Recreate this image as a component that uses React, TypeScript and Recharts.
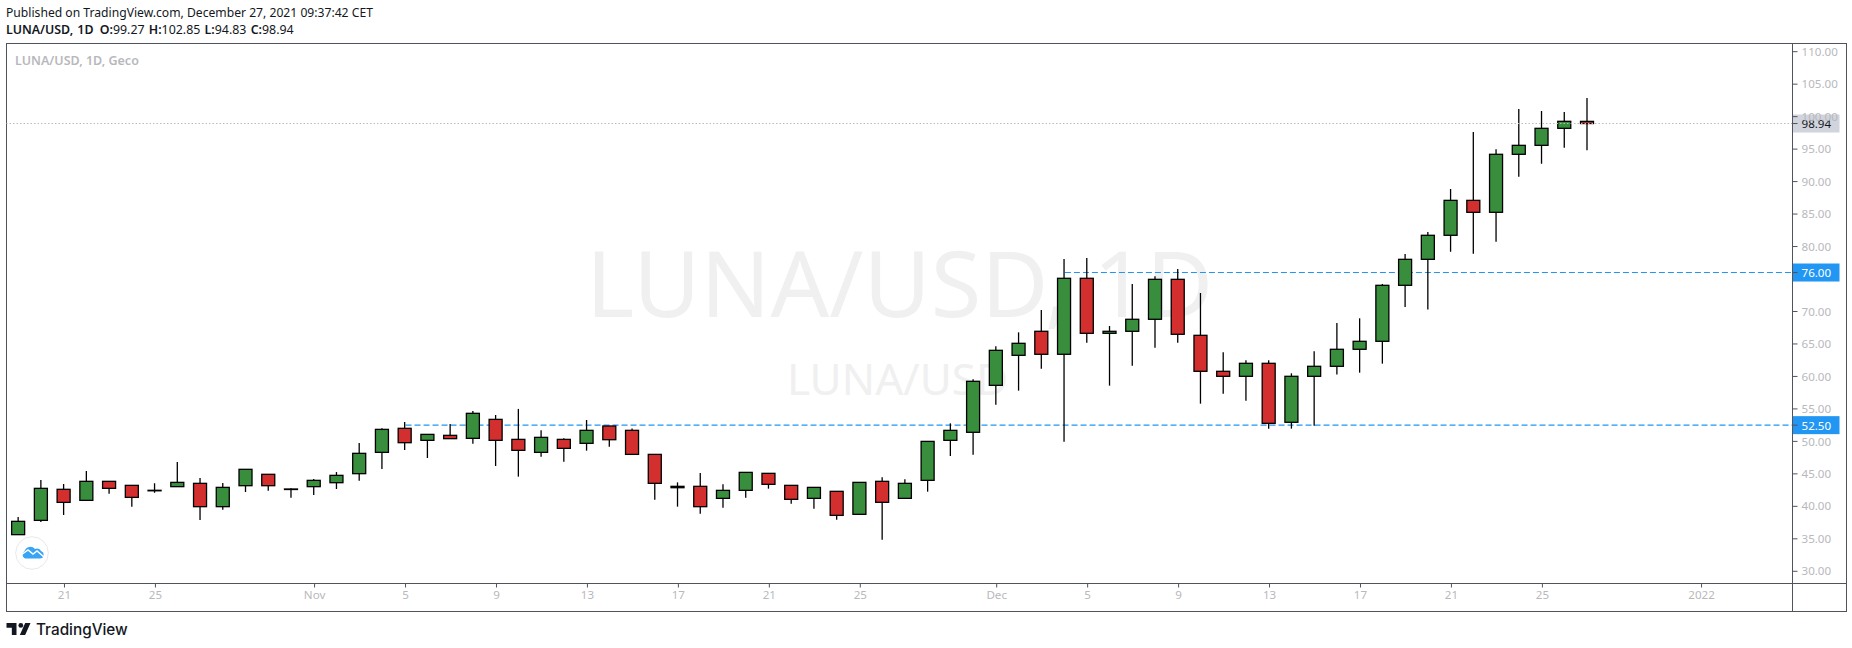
import { ComposedChart, Bar, XAxis, YAxis, ReferenceLine } from 'recharts'

// daily candles, 19 Oct - 27 Dec 2021
const dates = [
  'Oct 19', 'Oct 20', 'Oct 21', 'Oct 22', 'Oct 23', 'Oct 24', 'Oct 25', 'Oct 26', 'Oct 27', 'Oct 28', 'Oct 29', 'Oct 30', 'Oct 31',
  'Nov 1', 'Nov 2', 'Nov 3', 'Nov 4', 'Nov 5', 'Nov 6', 'Nov 7', 'Nov 8', 'Nov 9', 'Nov 10', 'Nov 11', 'Nov 12', 'Nov 13', 'Nov 14', 'Nov 15',
  'Nov 16', 'Nov 17', 'Nov 18', 'Nov 19', 'Nov 20', 'Nov 21', 'Nov 22', 'Nov 23', 'Nov 24', 'Nov 25', 'Nov 26', 'Nov 27', 'Nov 28', 'Nov 29', 'Nov 30',
  'Dec 1', 'Dec 2', 'Dec 3', 'Dec 4', 'Dec 5', 'Dec 6', 'Dec 7', 'Dec 8', 'Dec 9', 'Dec 10', 'Dec 11', 'Dec 12', 'Dec 13', 'Dec 14', 'Dec 15',
  'Dec 16', 'Dec 17', 'Dec 18', 'Dec 19', 'Dec 20', 'Dec 21', 'Dec 22', 'Dec 23', 'Dec 24', 'Dec 25', 'Dec 26', 'Dec 27',
]
const opens = [
  35.64, 37.84, 42.62, 40.92, 43.85, 43.23, 42.4, 43.03, 43.54, 39.95, 43.18, 44.93, 42.67,
  43.03, 43.64, 45.03, 48.31, 52.01, 50.16, 50.93, 50.47, 53.39, 50.31, 48.31, 50.31, 49.7, 52.37, 51.7,
  48.0, 43.08, 43.08, 41.23, 42.46, 45.08, 43.23, 41.23, 42.31, 38.77, 43.85, 41.23, 44.0, 50.16, 51.4,
  58.63, 63.25, 66.95, 63.41, 75.11, 66.64, 66.95, 68.8, 74.95, 66.33, 60.79, 60.02, 62.02, 52.94, 60.02,
  61.56, 64.18, 65.41, 74.03, 78.03, 81.73, 87.11, 85.27, 94.2, 95.58, 98.2, 99.27,
]
const highs = [
  38.36, 44.05, 43.44, 45.44, 43.85, 43.23, 43.54, 46.82, 44.36, 43.59, 45.7, 44.93, 42.77,
  44.2, 45.28, 49.75, 52.01, 52.98, 51.08, 52.67, 54.68, 54.06, 55.0, 51.7, 50.47, 53.29, 52.37, 52.0,
  48.0, 43.69, 45.13, 43.39, 45.23, 45.08, 43.23, 42.92, 42.31, 43.69, 44.46, 44.16, 50.0, 52.78, 59.56,
  64.64, 66.79, 70.23, 78.08, 78.24, 67.77, 74.24, 75.42, 76.54, 72.85, 63.71, 62.48, 62.48, 60.48, 63.87,
  68.23, 68.95, 74.24, 78.85, 82.24, 88.86, 97.64, 94.97, 101.18, 100.87, 100.72, 102.85,
]
const lows = [
  35.64, 37.59, 38.66, 40.92, 41.95, 39.95, 42.1, 43.03, 37.9, 39.49, 42.2, 42.41, 41.33,
  41.74, 42.67, 43.95, 45.75, 48.67, 47.44, 50.42, 49.65, 46.21, 44.57, 47.65, 46.88, 48.57, 49.19, 48.0,
  41.03, 39.95, 38.87, 39.79, 41.33, 42.72, 40.41, 39.64, 37.95, 38.77, 34.87, 41.23, 42.26, 47.75, 47.95,
  55.66, 57.81, 61.2, 49.96, 65.2, 58.58, 61.66, 64.43, 65.2, 55.81, 57.35, 56.27, 51.96, 51.96, 52.42,
  60.28, 60.58, 61.97, 70.7, 70.3, 79.21, 78.9, 80.75, 90.76, 92.76, 95.22, 94.83,
]
const closes = [
  37.69, 42.77, 40.61, 43.85, 42.77, 41.38, 42.47, 43.69, 39.95, 42.92, 45.7, 43.18, 42.62,
  44.0, 44.77, 48.16, 51.85, 49.8, 51.08, 50.42, 54.32, 50.16, 48.62, 50.62, 48.93, 51.7, 50.26, 48.0,
  43.54, 42.87, 39.95, 42.46, 45.23, 43.39, 41.08, 42.92, 38.61, 43.69, 40.62, 43.54, 50.0, 51.7, 59.25,
  64.02, 65.1, 63.41, 75.11, 66.64, 66.95, 68.8, 74.95, 66.49, 60.79, 60.02, 62.02, 52.78, 60.02, 61.56,
  64.18, 65.41, 74.03, 78.03, 81.73, 87.11, 85.27, 94.2, 95.58, 98.2, 99.28, 98.94,
]

// day number counted from 19 Oct
const dayTicks = [2, 6, 13, 17, 21, 25, 29, 33, 37, 43, 47, 51, 55, 59, 63, 67, 74]
const dayLabels = ['21', '25', 'Nov', '5', '9', '13', '17', '21', '25', 'Dec', '5', '9', '13', '17', '21', '25', '2022']
// 75.00 sits under the 76.00 tag in the original
const priceTicks = [30, 35, 40, 45, 50, 55, 60, 65, 70, 80, 85, 90, 95, 100, 105, 110]

const lowerLevel = 52.5
const upperLevel = 76
const lastPrice = 98.94

const chartData = dates.map((date, i) => ({
  day: i,
  date,
  open: opens[i],
  close: closes[i],
  range: [lows[i], highs[i]],
}))

const font = '"Noto Sans", "Open Sans", sans-serif'
const frameColor = '#50535e'
const tickColor = '#b8b8bc'
const levelBlue = '#2196f3'

function Candle(props: any) {
  const { width, y, height, payload } = props
  const x = props.x - 1 // bars come out a pixel right of the tick
  const [low, high] = payload.range
  const pxPerPrice = height / (high - low)
  const top = y + (high - Math.max(payload.open, payload.close)) * pxPerPrice
  const bottom = y + (high - Math.min(payload.open, payload.close)) * pxPerPrice
  const mid = x + width / 2
  const up = payload.close >= payload.open
  return (
    <g>
      <line x1={mid} x2={mid} y1={y} y2={y + height} stroke="#000" strokeWidth={1.3} />
      <rect
        x={x}
        y={top}
        width={width}
        height={Math.max(bottom - top, 0.5)}
        fill={up ? '#388e3c' : '#d32f2f'}
        stroke="#000"
        strokeWidth={1.3}
      />
    </g>
  )
}

function PriceTag({ viewBox, text, bg, color }: any) {
  const right = viewBox.x + viewBox.width
  return (
    <g>
      <rect x={right} y={viewBox.y - 9} width={47} height={18} fill={bg} />
      <line x1={right} x2={right + 5} y1={viewBox.y} y2={viewBox.y} stroke={frameColor} />
      <text x={right + 9} y={viewBox.y + 4.5} fill={color} fontSize={11.6} fontFamily={font}>
        {text}
      </text>
    </g>
  )
}

const abs = (left: number, top: number, width: number, height: number): React.CSSProperties => ({
  position: 'absolute',
  left,
  top,
  width,
  height,
})

export default function App() {
  return (
    <div style={{ ...abs(0, 0, 1852, 648), background: '#fff', fontFamily: font, overflow: 'hidden' }}>
      <div style={{ position: 'absolute', left: 6, top: 4, fontSize: 12.15, color: '#131722', whiteSpace: 'nowrap' }}>
        Published on TradingView.com, December 27, 2021 09:37:42 CET
      </div>
      <div style={{ position: 'absolute', left: 6, top: 21, fontSize: 12.4, color: '#131722', whiteSpace: 'nowrap', wordSpacing: 1 }}>
        <b style={{ fontWeight: 600 }}>LUNA/USD, 1D</b> <b style={{ fontWeight: 600, marginLeft: 2 }}>O:</b>99.27 <b style={{ fontWeight: 600 }}>H:</b>102.85{' '}
        <b style={{ fontWeight: 600 }}>L:</b>94.83 <b style={{ fontWeight: 600 }}>C:</b>98.94
      </div>

      {/* watermark */}
      <div style={{ position: 'absolute', left: 586, top: 232, fontSize: 92, color: '#f0f0f0', whiteSpace: 'nowrap', lineHeight: '100px' }}>
        LUNA/USD, 1D
      </div>
      <div style={{ position: 'absolute', left: 787, top: 348, fontSize: 44, color: '#f0f0f0', whiteSpace: 'nowrap', lineHeight: '60px' }}>
        LUNA/USD
      </div>

      {/* frame */}
      <div style={{ ...abs(6, 43, 1839, 567), border: `1px solid ${frameColor}` }} />
      <div style={{ ...abs(1792, 583, 54, 1), background: frameColor }} />
      <div style={{ ...abs(1792, 583, 1, 28), background: frameColor }} />

      <div style={{ position: 'absolute', left: 15, top: 52, fontSize: 12.5, fontWeight: 600, color: tickColor, whiteSpace: 'nowrap' }}>
        LUNA/USD, 1D, Geco
      </div>

      <ComposedChart
        width={1852}
        height={648}
        data={chartData}
        margin={{ top: 43.5, right: 5.5, bottom: 36.5, left: 6.5 }}
        style={{ position: 'absolute', left: 0, top: 0 }}
      >
        <XAxis
          dataKey="day"
          type="number"
          domain={[-0.55, 78]}
          allowDataOverflow
          ticks={dayTicks}
          interval={0}
          tickFormatter={(v: number) => dayLabels[dayTicks.indexOf(v)]}
          height={28}
          tickSize={4}
          tickMargin={3}
          axisLine={{ stroke: frameColor }}
          tickLine={{ stroke: frameColor }}
          tick={{ fontSize: 11.6, fill: tickColor, fontFamily: font }}
        />
        <YAxis
          orientation="right"
          type="number"
          domain={[28.12, 111.26]}
          allowDataOverflow
          ticks={priceTicks}
          interval={0}
          width={54}
          tickSize={5}
          tickMargin={4}
          tickFormatter={(v: number) => v.toFixed(2)}
          axisLine={{ stroke: frameColor }}
          tickLine={{ stroke: frameColor }}
          tick={{ fontSize: 11.6, fill: tickColor, fontFamily: font }}
        />
        <ReferenceLine
          zIndex={200}
          segment={[{ x: 17, y: lowerLevel }, { x: 78, y: lowerLevel }]}
          stroke={levelBlue}
          strokeWidth={1.2}
          strokeDasharray="6 3"
          label={{ content: (p: any) => <PriceTag viewBox={p.viewBox} text={lowerLevel.toFixed(2)} bg={levelBlue} color="#fff" /> }}
        />
        <ReferenceLine
          zIndex={200}
          segment={[{ x: 46, y: upperLevel }, { x: 78, y: upperLevel }]}
          stroke={levelBlue}
          strokeWidth={1.2}
          strokeDasharray="6 3"
          label={{ content: (p: any) => <PriceTag viewBox={p.viewBox} text={upperLevel.toFixed(2)} bg={levelBlue} color="#fff" /> }}
        />
        <Bar dataKey="range" barSize={13} shape={<Candle />} isAnimationActive={false} />
        <ReferenceLine
          y={lastPrice}
          stroke="#bbbbbb"
          strokeDasharray="1.5 2"
          label={{ content: (p: any) => <PriceTag viewBox={p.viewBox} text={lastPrice.toFixed(2)} bg="#d1d4dc" color="#131722" /> }}
        />
      </ComposedChart>

      {/* cloud badge */}
      <svg style={abs(14.5, 535.5, 34, 34)} viewBox="0 0 34 34">
        <circle cx="17" cy="17" r="16.3" fill="#fff" stroke="#e8e8e8" />
        <path d="M10 22.5 H25 a3.8 3.8 0 0 0 1-7.4 a4.5 4.5 0 0 0 -6-2 a6 6 0 0 0 -10.5 2 a4.2 4.2 0 0 0 .5 7.4z" fill="#3aa4f4" />
        <path d="M6 19 L13 14 L18 18 L22 15 L29 21" fill="none" stroke="#fff" strokeWidth="1.5" />
      </svg>

      {/* TradingView logo */}
      <svg style={abs(6, 623, 25, 12)} viewBox="0 0 36 18">
        <path d="M0 0h15v18h-7v-11h-8z M36 0l-8 18h-8l8-18z" fill="#131722" />
        <circle cx="21.5" cy="3.6" r="3.6" fill="#131722" />
      </svg>
      <div style={{ position: 'absolute', left: 36, top: 620, fontFamily: 'Inter, sans-serif', fontSize: 15.3, fontWeight: 500, color: '#131722', whiteSpace: 'nowrap', lineHeight: '20px' }}>
        TradingView
      </div>
    </div>
  )
}
